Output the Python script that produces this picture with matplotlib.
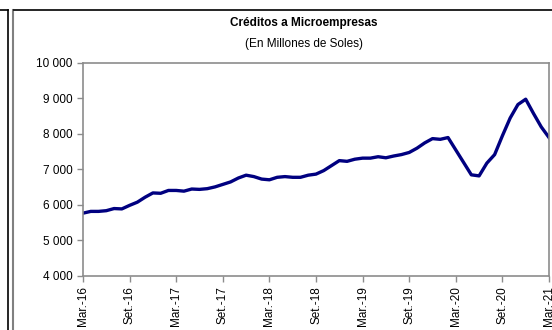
import numpy as np
import matplotlib.pyplot as plt
from matplotlib.lines import Line2D
from matplotlib.ticker import FuncFormatter

plt.rcParams['font.family'] = ['Liberation Sans', 'DejaVu Sans']

# monthly balances, Mar-16 .. Mar-21 (millions of soles)
creditos = [
    5770, 5820, 5820, 5840, 5900, 5890, 5990, 6080, 6220, 6340, 6330, 6410,
    6410, 6390, 6450, 6440, 6460, 6510, 6580, 6650, 6760, 6840, 6800, 6730,
    6710, 6780, 6800, 6780, 6780, 6840, 6870, 6970, 7110, 7250, 7230, 7290,
    7320, 7320, 7360, 7330, 7380, 7420, 7480, 7600, 7750, 7870, 7850, 7900,
    7550, 7200, 6850, 6820, 7180, 7420, 7950, 8450, 8830, 8980, 8580, 8200,
    7900,
]
tick_labels = ["Mar.-16", "Set.-16", "Mar.-17", "Set.-17", "Mar.-18", "Set.-18",
               "Mar.-19", "Set.-19", "Mar.-20", "Set.-20", "Mar.-21"]

x = np.arange(len(creditos))

W, H = 552, 330
fig = plt.figure(figsize=(5.52, 3.30), dpi=100)
ax = fig.add_axes([83 / W, 1 - 276 / H, (549 - 83) / W, (276 - 63) / H])

ax.plot(x, creditos, color="#000080", lw=2.4, solid_joinstyle="round")

ax.set_xlim(0, len(creditos) - 1)
ax.set_ylim(4000, 10000)
ax.set_yticks(np.arange(4000, 10001, 1000))
ax.yaxis.set_major_formatter(FuncFormatter(lambda v, p: f"{int(v):,}".replace(",", " ")))
ax.set_xticks(np.arange(0, len(creditos), 6))
ax.set_xticklabels(tick_labels, rotation=90)

for s in ax.spines.values():
    s.set_color("#8c8c8c")
    s.set_linewidth(1.2)
ax.tick_params(axis="both", colors="#8c8c8c", labelcolor="black", length=4,
               width=1, labelsize=8.5, direction="out")

fig.text(304 / W, 1 - 23 / H, "Créditos a Microempresas",
         ha="center", va="center", fontsize=8.5, fontweight="bold")
fig.text(304 / W, 1 - 44 / H, "(En Millones de Soles)",
         ha="center", va="center", fontsize=8.5)

# outer frame lines
fig.add_artist(Line2D([0, 8 / W], [1 - 10 / H, 1 - 10 / H], color="black", lw=1.2))
fig.add_artist(Line2D([8 / W, 8 / W], [0, 1 - 10 / H], color="black", lw=1.2))
fig.add_artist(Line2D([13 / W, 13 / W], [0, 1 - 10 / H], color="#808080", lw=1.5))
fig.add_artist(Line2D([14 / W, 1], [1 - 10 / H, 1 - 10 / H], color="black", lw=1.2))

fig.savefig("out.png", dpi=100)
